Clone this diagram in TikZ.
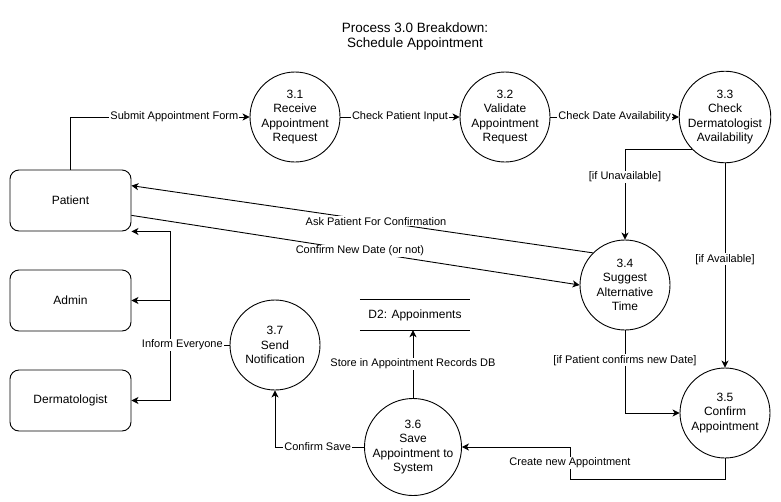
\documentclass[tikz,border=0pt]{standalone}
\usepackage{fontspec}
\setmainfont{Liberation Sans}
\usetikzlibrary{arrows.meta,calc}
\begin{document}
\begin{tikzpicture}[x=1pt,y=-1pt,
  proc/.style={circle,draw,line width=0.9pt,minimum size=90pt,inner sep=0pt,align=center,font=\fontsize{12}{14.5}\selectfont},
  ent/.style={rectangle,draw,line width=0.9pt,rounded corners=9pt,minimum width=121pt,minimum height=61pt,font=\fontsize{12}{14.5}\selectfont},
  store/.style={minimum width=110pt,minimum height=30pt,inner sep=0pt,font=\fontsize{12}{14.5}\selectfont},
  lbl/.style={fill=white,inner sep=1pt,font=\fontsize{11}{13}\selectfont},
  arr/.style={line width=0.9pt,-{Stealth[length=7pt,width=7pt,inset=2pt]}},
  ln/.style={line width=0.9pt}]
\useasboundingbox (0,0) rectangle (781,501);
\node[align=center,font=\fontsize{13.5}{15}\selectfont] (title) at (415,37) {Process 3.0 Breakdown:\\Schedule Appointment};

\node[proc] (p31) at (295,117) {3.1\\Receive\\Appointment\\Request};
\node[proc] (p32) at (505,117) {3.2\\Validate\\Appointment\\Request};
\node[proc] (p33) at (725,117) {3.3\\Check\\Dermatologist\\Availability};
\node[proc] (p34) at (625,285) {3.4\\Suggest\\Alternative\\Time};
\node[proc] (p35) at (725,413) {3.5\\Confirm\\Appointment};
\node[proc] (p36) at (413,447) {3.6\\Save\\Appointment to\\System};
\node[proc] (p37) at (275,345) {3.7\\Send\\Notification};

\node[ent] (pat) at (70.5,200.5) {Patient};
\node[ent] (adm) at (70.5,300.5) {Admin};
\node[ent] (der) at (70.5,400.5) {Dermatologist};

\node[store] (d2) at (415,315) {D2: Appoinments};
\draw[ln] (d2.north west) -- (d2.north east);
\draw[ln] (d2.south west) -- (d2.south east);

\draw[arr] (pat.north) |- node[lbl,pos=0.79] {Submit Appointment Form} (p31.west);
\draw[arr] (p31) -- node[lbl] {Check Patient Input} (p32);
\draw[arr] (p32) -- node[lbl] {Check Date Availability} (p33);
\draw[arr] (p33.south west) -| node[lbl,pos=0.65] {[if Unavailable]} (p34.north);
\draw[arr] (p33) -- node[lbl,pos=0.47] {[if Available]} (p35);

\coordinate (patA) at ($(pat.north east)!0.26!(pat.south east)$);
\coordinate (patB) at ($(pat.north east)!0.74!(pat.south east)$);
\draw[arr] (p34.north west) -- node[lbl,pos=0.47] {Ask Patient For Confirmation} (patA);
\draw[arr] (patB) -- node[lbl,pos=0.51] {Confirm New Date (or not)} (p34.west);

\draw[arr] (p34.south) |- node[lbl,pos=0.18] {[if Patient confirms new Date]} (p35.west);

\coordinate (c56) at (570,479);
\draw[arr] (p35.south) |- (c56) |- node[lbl,pos=0.25] {Create new Appointment} (p36.east);

\draw[arr] (p36.north) -- node[lbl,pos=0.5] {Store in Appointment Records DB} (p36.north |- d2.south);
\draw[arr] (p36.west) -| node[lbl,pos=0.26] {Confirm Save} (p37.south);

\coordinate (j) at (170.5,345);
\draw[arr] (j) |- (pat.south east);
\draw[arr] (j) |- (adm.east);
\draw[arr] (j) |- (der.east);
\draw[ln] (p37.west) -- node[lbl,pos=0.8] {Inform Everyone} (j);
\end{tikzpicture}
\end{document}
